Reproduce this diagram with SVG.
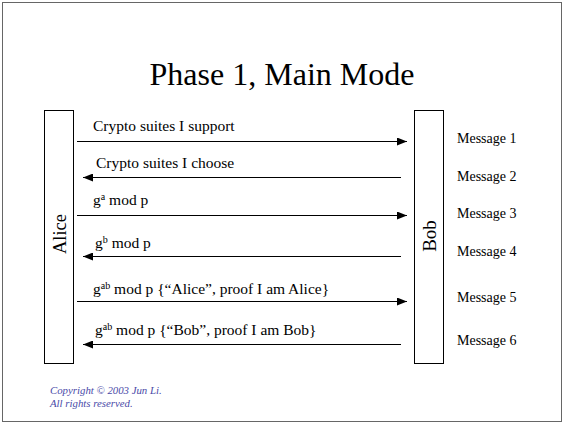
<svg xmlns="http://www.w3.org/2000/svg" width="564" height="424" viewBox="0 0 564 424" font-family="'Liberation Serif', 'Times New Roman', serif">
<style>
.lbl{font-size:15.5px}
.sup{font-size:10px}
.msg{font-size:14px}
.box{fill:#fff;stroke:#000;stroke-width:1}
.ln{stroke:#000;stroke-width:1;fill:none}
.cp{font-size:10.8px;font-style:italic;fill:#4a4aa8}
</style>
<defs>
<marker id="ah" viewBox="0 0 10 8" refX="10" refY="4" markerWidth="10" markerHeight="8" markerUnits="userSpaceOnUse" orient="auto">
<path d="M0,0 L10,4 L0,8 z" fill="#000"/>
</marker>
</defs>
<rect x="2.5" y="2.5" width="559" height="419" fill="#fff" stroke="#666" stroke-width="1"/>
<text x="282" y="85" font-size="32" text-anchor="middle">Phase 1, Main Mode</text>
<g id="alice">
<rect class="box" x="44.5" y="110.5" width="29" height="253"/>
<text transform="translate(66,234) rotate(-90)" font-size="18.5" text-anchor="middle">Alice</text>
</g>
<g id="bob">
<rect class="box" x="414.5" y="110.5" width="29" height="253"/>
<text transform="translate(436,236) rotate(-90)" font-size="19" text-anchor="middle">Bob</text>
</g>
<g id="connectors">
<line class="ln" x1="77" y1="141.5" x2="407" y2="141.5" marker-end="url(#ah)"/>
<line class="ln" x1="401" y1="177.5" x2="83" y2="177.5" marker-end="url(#ah)"/>
<line class="ln" x1="77" y1="215.5" x2="407" y2="215.5" marker-end="url(#ah)"/>
<line class="ln" x1="401" y1="256.5" x2="83" y2="256.5" marker-end="url(#ah)"/>
<line class="ln" x1="77" y1="301.5" x2="407" y2="301.5" marker-end="url(#ah)"/>
<line class="ln" x1="401" y1="344.5" x2="83" y2="344.5" marker-end="url(#ah)"/>
</g>
<g id="labels">
<text class="lbl" x="93" y="131">Crypto suites I support</text>
<text class="lbl" x="96" y="168">Crypto suites I choose</text>
<text class="lbl" x="93" y="205">g<tspan class="sup" dy="-5">a</tspan><tspan dy="5"> mod p</tspan></text>
<text class="lbl" x="95" y="248">g<tspan class="sup" dy="-5">b</tspan><tspan dy="5"> mod p</tspan></text>
<text class="lbl" x="93" y="294">g<tspan class="sup" dy="-5">ab</tspan><tspan dy="5"> mod p {“Alice”, proof I am Alice}</tspan></text>
<text class="lbl" x="95" y="335">g<tspan class="sup" dy="-5">ab</tspan><tspan dy="5"> mod p {“Bob”, proof I am Bob}</tspan></text>
</g>
<g id="messages">
<text class="msg" x="457" y="143">Message 1</text>
<text class="msg" x="457" y="181">Message 2</text>
<text class="msg" x="457" y="218">Message 3</text>
<text class="msg" x="457" y="256">Message 4</text>
<text class="msg" x="457" y="302">Message 5</text>
<text class="msg" x="457" y="345">Message 6</text>
</g>
<text class="cp" x="50" y="394">Copyright © 2003 Jun Li.</text>
<text class="cp" x="50" y="407">All rights reserved.</text>
</svg>
